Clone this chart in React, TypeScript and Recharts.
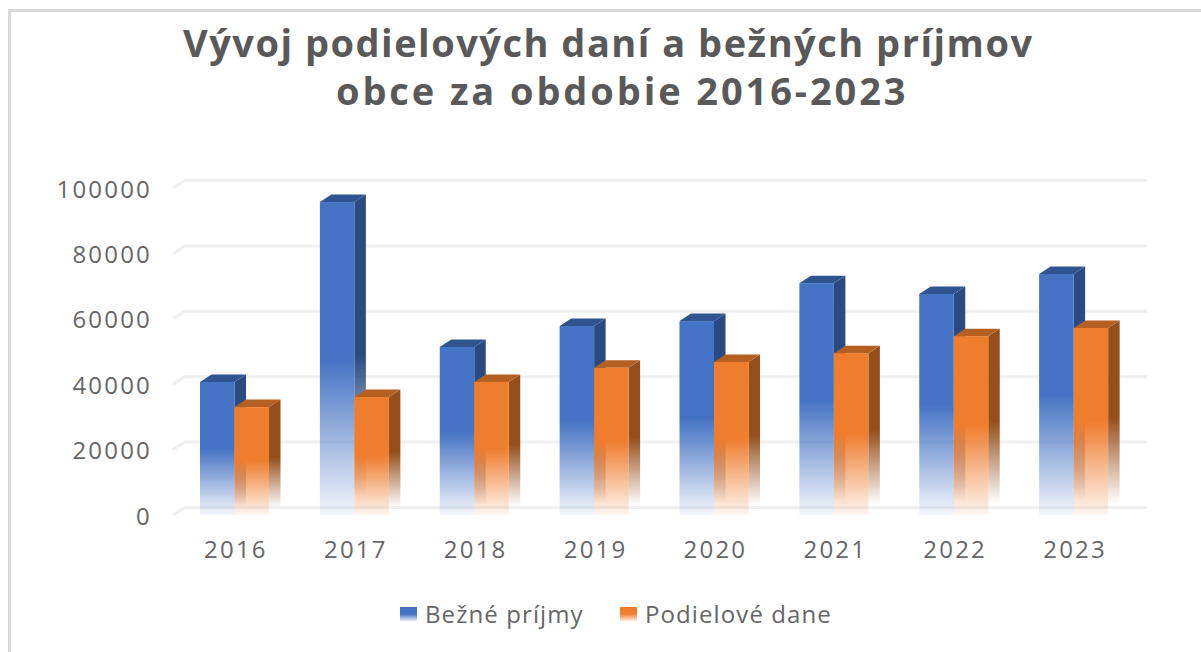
import React from 'react';
import { BarChart, Bar, XAxis, YAxis, CartesianGrid, Legend } from 'recharts';

const years = ['2016', '2017', '2018', '2019', '2020', '2021', '2022', '2023'];
const bezne = [40700, 95700, 51400, 57800, 59300, 70900, 67600, 73700];
const podielove = [33000, 36100, 40700, 45000, 46800, 49500, 54700, 57200];
const yTicks = [0, 20000, 40000, 60000, 80000, 100000];
const titleLines = ['Vývoj podielových daní a bežných príjmov', 'obce za obdobie 2016-2023'];

const data = years.map((year, i) => ({
  year,
  'Bežné príjmy': bezne[i],
  'Podielové dane': podielove[i],
}));

const FONT = '"Open Sans", sans-serif';
const DX = 11.5;
const DY = 7.5;

const Box3D = (props: any) => {
  const { x, y, width, height, palette } = props;
  const r = x + width;
  const b = y + height;
  return (
    <g>
      <polygon points={`${r},${y} ${r + DX},${y - DY} ${r + DX},${b - DY} ${r},${b}`} fill={`url(#${palette}Side)`} />
      <polygon points={`${x},${y} ${x + DX},${y - DY} ${r + DX},${y - DY} ${r},${y}`} fill={`url(#${palette}Top)`} />
      <rect x={x} y={y} width={width} height={height} fill={`url(#${palette}Front)`} />
    </g>
  );
};

// back wall gridline with the little slanted piece on the left
const GridLine = (props: any) => {
  const { x1, x2, y1, index } = props;
  return (
    <polyline
      key={index}
      points={`${x1 - 2},${y1} ${x1 + 10},${y1 - DY} ${x2 + 13},${y1 - DY}`}
      fill="none"
      stroke="#f0f0f0"
      strokeWidth={3}
    />
  );
};

const Fade = ({ id, color, end = 0.06, stopAt = 1 }: { id: string; color: string; end?: number; stopAt?: number }) => (
  <linearGradient id={id} x1="0" y1="0" x2="0" y2="1">
    <stop offset="0" stopColor={color} stopOpacity={1} />
    <stop offset="0.5" stopColor={color} stopOpacity={1} />
    <stop offset={stopAt} stopColor={color} stopOpacity={end} />
  </linearGradient>
);

const renderLegend = (props: any) => (
  <div style={{ position: 'relative', height: 40, fontFamily: FONT, fontSize: 24, color: '#666', letterSpacing: 1.1 }}>
    {props.payload.map((entry: any, i: number) => (
      <div key={entry.value} style={{ position: 'absolute', left: i === 0 ? 400 : 620, top: 0, display: 'flex', alignItems: 'center', whiteSpace: 'nowrap' }}>
        <span style={{ width: 17, height: 14, marginRight: 8, background: `linear-gradient(${entry.color} 50%, ${entry.color}22)` }} />
        {entry.value}
      </div>
    ))}
  </div>
);

export default function App() {
  const tick = { fontSize: 24, fill: '#666', fontFamily: FONT, letterSpacing: 2.2 };
  return (
    <div style={{ position: 'relative', width: 1201, height: 652, background: '#fff', overflow: 'hidden' }}>
      <style>{'body{margin:0}'}</style>
      <div style={{ position: 'absolute', left: 8, top: 9, right: 0, bottom: 0, borderLeft: '3px solid #d9d9d9', borderTop: '3px solid #d9d9d9' }} />
      <div style={{ position: 'absolute', left: 0, top: 18, width: 1201, fontFamily: FONT, fontWeight: 700, fontSize: 38, lineHeight: '48px', color: '#595959', whiteSpace: 'nowrap' }}>
        {titleLines.map((line, i) => (
          <div key={line} style={{ paddingLeft: i === 0 ? 183 : 336, letterSpacing: i === 0 ? 1.5 : 2.9 }}>{line}</div>
        ))}
      </div>
      <div style={{ position: 'absolute', left: 0, top: 0 }}>
        <BarChart
          width={1201}
          height={652}
          data={data}
          barSize={34.5}
          barGap={0}
          barCategoryGap={0}
          margin={{ top: 188, right: 67, bottom: 57, left: 0 }}
        >
          <defs>
            <Fade id="blueFront" color="#4472c4" />
            <Fade id="blueSide" color="#2a4a82" end={0} stopAt={0.94} />
            <Fade id="blueTop" color="#30548f" end={1} />
            <Fade id="orangeFront" color="#ef7d2e" />
            <Fade id="orangeSide" color="#964f1b" end={0} stopAt={0.94} />
            <Fade id="orangeTop" color="#b55f21" end={1} />
          </defs>
          <CartesianGrid vertical={false} horizontal={GridLine} />
          <XAxis dataKey="year" height={40} axisLine={false} tickLine={false} tickMargin={20} tick={{ ...tick, dx: 1 }} />
          <YAxis width={175} domain={[0, 100000]} ticks={yTicks} axisLine={false} tickLine={false} tickMargin={17} tick={{ ...tick, dy: 1 }} interval={0} />
          <Legend
            content={renderLegend}
            wrapperStyle={{ top: 597, left: 0, width: 1201, height: 40 }}
          />
          <Bar dataKey="Bežné príjmy" fill="#4472c4" shape={(p: any) => <Box3D {...p} palette="blue" />} isAnimationActive={false} />
          <Bar dataKey="Podielové dane" fill="#ef7d2e" shape={(p: any) => <Box3D {...p} palette="orange" />} isAnimationActive={false} />
        </BarChart>
      </div>
    </div>
  );
}
